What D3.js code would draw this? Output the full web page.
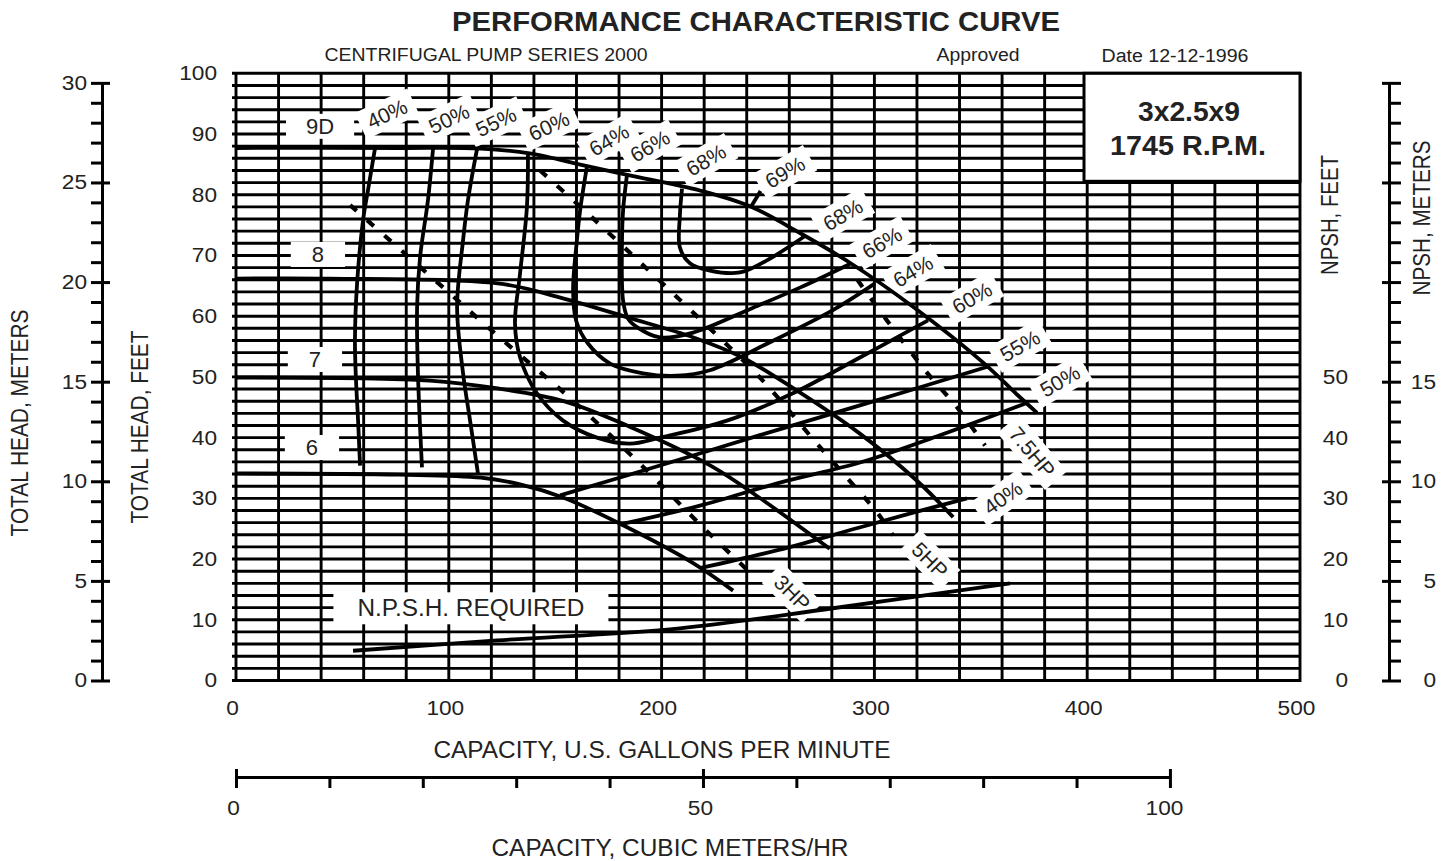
<!DOCTYPE html>
<html><head><meta charset="utf-8">
<script src="https://cdn.jsdelivr.net/npm/d3@7"></script>
<style>
body{margin:0;background:#fff}
svg{display:block;background:#fff}
text{font-family:"Liberation Sans",Arial,Helvetica,sans-serif;fill:#222}
</style>
</head><body>
<svg id="c" width="1450" height="861"></svg>
<script>
// ---------- DATA ----------
const gpmTicks = [0,100,200,300,400,500];
const headFtTicks = [0,10,20,30,40,50,60,70,80,90,100];
const headMTicks = [0,5,10,15,20,25,30];
const npshFtTicks = [0,10,20,30,40,50];
const npshMTicks = [0,5,10,15];
const cmhTicks = [0,50,100];

// impeller head curves [gpm, feet]
const imp9D = [[0,87.7],[77,87.7],[115,87.6],[138,86.8],[165,84.7],[185,83.2],[218,80.7],[241.5,78.1],[265,73.7],[288.5,68.8],[318,61.6],[351,52.4],[367,47.1],[376.4,44.1]];
const imp8  = [[0,66.2],[44,66.2],[123,65.4],[152,63.1],[184,59.8],[215,56.5],[238,53.2],[262,48.1],[293,40.7],[320,32.9],[337,26.9]];
const imp7  = [[0,49.9],[91,49.4],[123,48.1],[154,46.0],[185,41.8],[223,35.4],[246,30.1],[279,21.7]];
const imp6  = [[0,34.1],[77,33.9],[115,33.4],[133.5,32.3],[154,30.1],[184,25.2],[215,19.3],[233.6,14.8]];

// iso-efficiency curves
const eff40L = [[65.3,87.6],[62.0,80.7],[59.7,75.8],[56.9,65.4],[55.9,56.0],[56.4,49.4],[57.3,43.3],[58.3,35.4]];
const eff40R = [[218,18.5],[255,21.5],[293,25.2],[320,27.8],[343.5,30.0]];
const eff50L = [[92.6,87.6],[90.2,79.1],[86.5,69.7],[85.1,61.5],[85.5,50.6],[87.4,35.1]];
const eff50R = [[180.5,25.7],[218,28.8],[255.6,32.6],[293.2,35.9],[330.8,40.4],[372.2,45.8]];
const eff55L = [[113.3,87.6],[109.0,79.1],[106.7,72.5],[103.9,61.5],[106.7,50.6],[110.0,42.8],[113.7,34.1]];
const eff55R = [[152.3,30.5],[199.2,35.4],[246.2,40.4],[293.2,45.3],[354.3,51.8]];
const eff60  = [[137.2,86.8],[136.7,77.9],[133.5,67.1],[131.1,58.8],[133.5,53.2],[141.4,47.3],[153.7,42.8],[169.6,40.0],[185.2,39.0],[199.2,40.0],[230.7,42.8],[261.7,47.3],[293.2,53.2],[325.2,59.3]];
const eff64  = [[164.9,84.6],[161.7,77.4],[160.2,72.5],[158.4,64.3],[159.8,59.3],[165.4,55.5],[175.8,52.2],[191.3,50.6],[207.2,50.2],[222.7,51.1],[250.9,55.7],[280.5,61.0],[300.3,65.4]];
const eff66  = [[183.7,83.2],[181.9,77.4],[181.4,72.5],[181.9,62.6],[184.2,59.6],[188.4,58.2],[199.2,56.5],[214.8,57.3],[243.0,61.4],[265.0,64.7],[288.5,68.6]];
const eff68  = [[209.6,81.0],[208.6,76.6],[208.6,71.3],[213.3,68.7],[222.7,67.5],[236.8,67.2],[249.5,69.2],[267.4,73.2]];
const eff69  = [[241.8,77.9],[246.5,80.6]];

// power (HP) lines
const hp3  = [[53.6,78.3],[92.6,66.2],[125.5,56.0],[157.0,46.5],[189.8,35.7],[219.5,25.2],[243.0,17.3]];
const hp5  = [[142.9,84.0],[167.8,76.1],[191.3,68.4],[214.8,60.6],[246.2,49.9],[273.0,39.0],[287.1,33.4],[301.2,27.7],[308.7,23.9]];
const hp75 = [[292,66.0],[305.9,59.3],[324.7,50.7],[338.8,45.0],[352.0,38.7]];

// NPSH required [gpm, feet]
const npshReq = [[55.0,4.9],[122.7,6.6],[208.6,8.6],[280.5,11.9],[363.7,16.0]];

// curve labels: text, gpm, feet, angle
const effLabels = [
  ["40%",71.0,93.3,-25],["50%",100.1,92.5,-25],["55%",122.2,92.0,-25],["60%",147.1,91.3,-25],
  ["64%",175.3,89.0,-30],["66%",194.5,88.0,-30],["68%",220.9,85.7,-30],["69%",258.0,83.7,-30],
  ["68%",285.2,76.7,-30],["66%",303.6,72.1,-30],["64%",318.1,67.4,-30],["60%",345.9,63.0,-30],
  ["55%",368.4,55.1,-30],["50%",387.2,49.3,-30],["7.5HP",374.1,37.6,50],["40%",360.4,30.1,-35],
  ["5HP",326.1,19.8,45],["3HP",261.3,14.4,45]
];
const impLabels = [["9D",39.5,91.3],["8",38.5,70.2],["7",37.1,52.9],["6",35.7,38.4]];
const npshLabel = ["N.P.S.H. REQUIRED",110.4,11.9];

// ---------- DRAW ----------
const svg = d3.select('#c');
const FT_PER_M = 3.28084, GPM_PER_CMH = 4.40287;
const x = d3.scaleLinear().domain([0,500]).range([236,1300]);
const y = d3.scaleLinear().domain([0,100]).range([680.5,73.3]);
const yM = d3.scaleLinear().domain([0,30]).range([y(0), y(30*FT_PER_M)]);
const xC = d3.scaleLinear().domain([0,100]).range([x(0), x(100*GPM_PER_CMH)-3]);

// grid
const grid = svg.append('g').attr('stroke','#000').attr('stroke-width',2.9);
grid.selectAll('line.v').data(d3.range(0,501,20)).join('line').attr('class','v')
  .attr('x1',d=>x(d)).attr('x2',d=>x(d)).attr('y1',y(100)-1).attr('y2',y(0)+1.5);
grid.selectAll('line.h').data(d3.range(0,101,2)).join('line').attr('class','h')
  .attr('x1',x(0)-4).attr('x2',x(500)+1).attr('y1',d=>y(d)).attr('y2',d=>y(d));

const boxLayer = svg.append('g');
const curveLayer = svg.append('g').attr('fill','none').attr('stroke','#000');
const textLayer = svg.append('g');

function boxLabel(text, px, py, angle, size, padX, padY, len){
  const tf = `translate(${px},${py}) rotate(${angle})`;
  const t = textLayer.append('text').attr('transform',tf).attr('text-anchor','middle')
    .attr('dy','0.35em').attr('font-size',size).text(text);
  if(len) t.attr('textLength',len).attr('lengthAdjust','spacingAndGlyphs');
  const bb = t.node().getBBox();
  boxLayer.append('rect').attr('transform',tf).attr('x',bb.x-padX).attr('y',bb.y-padY)
    .attr('width',bb.width+2*padX).attr('height',bb.height+2*padY).attr('fill','#fff');
}

effLabels.forEach(d=>boxLabel(d[0], x(d[1]), y(d[2]), d[3], 21, 8, 3));
impLabels.forEach(d=>boxLabel(d[0], x(d[1]), y(d[2]), 0, 22, d[0].length>1?20:21, 0));
boxLabel(npshLabel[0], x(npshLabel[1]), y(npshLabel[2]), 0, 23, 24, 3, 227);

// top-right info box
boxLayer.append('rect').attr('x',1084).attr('y',y(100)).attr('width',x(500)-1084).attr('height',108)
  .attr('fill','#fff').attr('stroke','#000').attr('stroke-width',3);
textLayer.append('text').attr('x',1189).attr('y',121).attr('text-anchor','middle')
  .attr('font-size',27).attr('font-weight','bold').attr('textLength',102).attr('lengthAdjust','spacingAndGlyphs').text('3x2.5x9');
textLayer.append('text').attr('x',1188).attr('y',155).attr('text-anchor','middle')
  .attr('font-size',27).attr('font-weight','bold').attr('textLength',156).attr('lengthAdjust','spacingAndGlyphs').text('1745 R.P.M.');

// curves
const line = d3.line().x(d=>x(d[0])).y(d=>y(d[1])).curve(d3.curveCatmullRom.alpha(0.5));
[imp9D,imp8,imp7,imp6].forEach(c=>curveLayer.append('path').attr('d',line(c)).attr('stroke-width',3.8));
[eff40L,eff40R,eff50L,eff50R,eff55L,eff55R,eff60,eff64,eff66,eff68,eff69]
  .forEach(c=>curveLayer.append('path').attr('d',line(c)).attr('stroke-width',3.8));
[hp3,hp5,hp75].forEach(c=>curveLayer.append('path').attr('d',line(c)).attr('stroke-width',4.2)
  .attr('stroke-dasharray','9,14'));
curveLayer.append('path').attr('d',line(npshReq)).attr('stroke-width',3.8);

// ---------- AXES ----------
function styleAxis(g){
  g.attr('font-family',null).attr('font-size',null).attr('color','#000');
  g.selectAll('.tick text').attr('font-size',20).attr('fill','#222')
    .attr('lengthAdjust','spacingAndGlyphs')
    .each(function(){ const s=this.textContent; if(s) d3.select(this).attr('textLength',s.length*12.6); });
}
// left head, meters
const axM = svg.append('g').attr('transform','translate(102,0)')
  .call(d3.axisLeft(yM).tickValues(d3.range(0,31)).tickSize(11).tickSizeOuter(0).tickPadding(4)
    .tickFormat(d=>headMTicks.includes(d)?d:''));
styleAxis(axM);
axM.select('.domain').attr('stroke-width',3);
axM.selectAll('.tick line').attr('stroke-width',3).attr('x1',d=>d%5===0?8:0);

// left head, feet (labels only)
const axF = svg.append('g').attr('transform',`translate(${x(0)},0)`)
  .call(d3.axisLeft(y).tickValues(headFtTicks).tickSize(0).tickPadding(19));
styleAxis(axF); axF.select('.domain').remove();

// right NPSH feet (labels only)
const axNF = svg.append('g').attr('transform',`translate(${x(500)},0)`)
  .call(d3.axisRight(y).tickValues(npshFtTicks).tickSize(0).tickPadding(48));
styleAxis(axNF); axNF.select('.domain').remove();
axNF.selectAll('.tick text').attr('text-anchor','end');

// right NPSH meters
const axNM = svg.append('g').attr('transform','translate(1389,0)')
  .call(d3.axisRight(yM).tickValues(d3.range(0,31)).tickSize(12).tickSizeOuter(0).tickPadding(35)
    .tickFormat(d=>npshMTicks.includes(d)?d:''));
styleAxis(axNM);
axNM.select('.domain').attr('stroke-width',3);
axNM.selectAll('.tick line').attr('stroke-width',3).attr('x1',d=>d%5===0?-7:0);
axNM.selectAll('.tick text').attr('text-anchor','end');

// bottom gpm
const axX = svg.append('g').attr('transform',`translate(0,${y(0)})`)
  .call(d3.axisBottom(x).tickValues(gpmTicks).tickSize(0).tickPadding(20));
styleAxis(axX); axX.select('.domain').remove();
axX.selectAll('.tick text').attr('dx',-4);

// bottom cubic meters/hr
const axC = svg.append('g').attr('transform','translate(0,777)')
  .call(d3.axisBottom(xC).tickValues(d3.range(0,101,10)).tickSize(11).tickSizeOuter(0).tickPadding(13)
    .tickFormat(d=>cmhTicks.includes(d)?d:''));
styleAxis(axC);
axC.select('.domain').attr('stroke-width',3);
axC.selectAll('.tick line').attr('stroke-width',3).attr('y1',d=>d%50===0?-8:0);
axC.selectAll('.tick text').attr('dx',d=>d===100?-6:-3);

// ---------- TITLES ----------
function txt(s, px, py, size, len, opts={}){
  const t = svg.append('text').attr('x',px).attr('y',py).attr('font-size',size)
    .attr('text-anchor',opts.anchor||'middle').text(s);
  if(len) t.attr('textLength',len).attr('lengthAdjust','spacingAndGlyphs');
  if(opts.bold) t.attr('font-weight','bold');
  if(opts.rot){ t.attr('transform',`rotate(-90,${px},${py})`).attr('dy','0.35em'); }
  return t;
}
txt('PERFORMANCE CHARACTERISTIC CURVE', 756, 31, 28, 608, {bold:true});
txt('CENTRIFUGAL PUMP SERIES 2000', 486, 61, 18, 323);
txt('Approved', 978, 61, 18, 83);
txt('Date 12-12-1996', 1175, 62, 18, 147);
txt('CAPACITY, U.S. GALLONS PER MINUTE', 662, 758, 23, 457);
txt('CAPACITY, CUBIC METERS/HR', 670, 856, 23, 357);
txt('TOTAL HEAD, METERS', 20, 423, 23, 227, {rot:true});
txt('TOTAL HEAD, FEET', 140, 427, 23, 193, {rot:true});
txt('NPSH, FEET', 1330, 215, 23, 120, {rot:true});
txt('NPSH, METERS', 1422, 218, 23, 155, {rot:true});
</script>
</body></html>
